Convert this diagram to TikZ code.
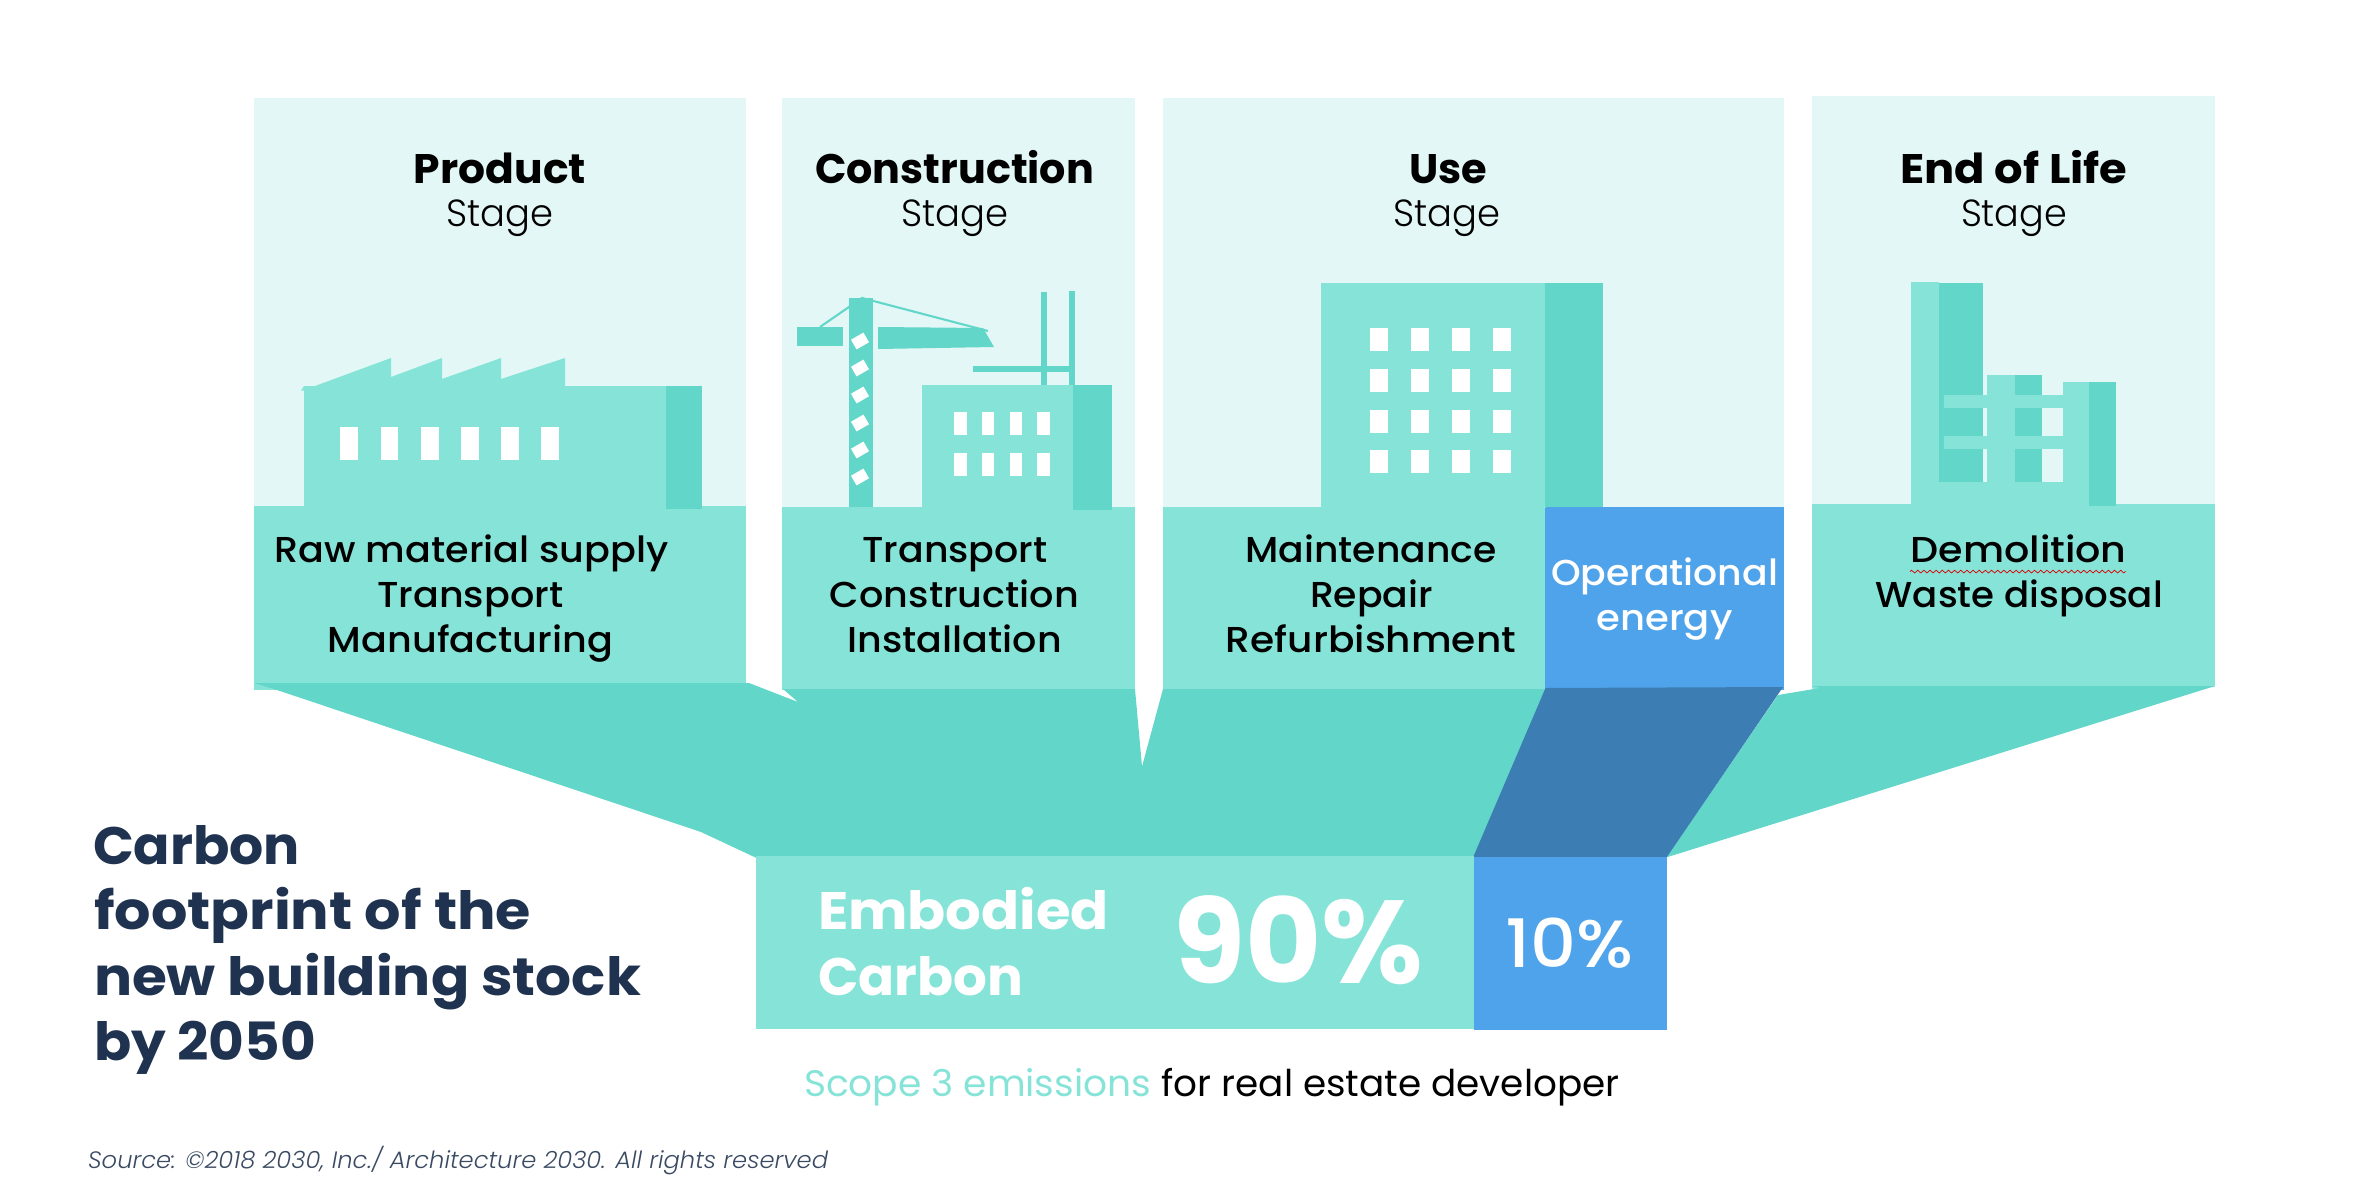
\documentclass[tikz,border=0pt]{standalone}
\usepackage{fontspec}
\usepackage{graphicx}
\usetikzlibrary{decorations.pathmorphing}
\setmainfont{Poppins}
\newfontfamily\medf{Poppins Medium}
\newfontfamily\lightf{Poppins Light}
\newfontfamily\itf{Poppins Light Italic}
\definecolor{cLight}{HTML}{E3F8F6}
\definecolor{cMid}{HTML}{86E3D8}
\definecolor{cDark}{HTML}{62D6C8}
\definecolor{cBlue}{HTML}{4FA3EA}
\definecolor{cDeep}{HTML}{3C7DB3}
\definecolor{cNavy}{HTML}{1F3350}
\definecolor{cSrc}{HTML}{3A4A63}
\newcommand\fitbox[2]{\sbox0{#2}\pgfmathsetmacro\fx{#1*1.13811/\the\wd0}\scalebox{\fx}[1]{#2}}
\tikzset{
  light/.style={fill=cLight},
  mid/.style={fill=cMid},
  dark/.style={fill=cDark},
  win/.style={fill=white},
  txt/.style={anchor=base,inner sep=0pt,outer sep=0pt},
  headtxt/.style={txt,text=black,font=\bfseries\fontsize{47}{47}\selectfont},
  stagetxt/.style={txt,text=black,font=\lightf\fontsize{43}{43}\selectfont},
  bodytxt/.style={txt,text=black,font=\medf\fontsize{41}{41}\selectfont},
  optxt/.style={txt,text=white,font=\medf\fontsize{41}{41}\selectfont},
  titletxt/.style={txt,text=cNavy,font=\bfseries\fontsize{60}{60}\selectfont},
  embtxt/.style={txt,text=white,font=\bfseries\fontsize{60}{60}\selectfont},
  scopetxt/.style={txt,font=\fontsize{42}{42}\selectfont},
  srctxt/.style={txt,text=cSrc,font=\itf\fontsize{27}{27}\selectfont},
}
\begin{document}
\begin{tikzpicture}[x=0.04cm,y=-0.04cm]
\useasboundingbox (0,0) rectangle (2360,1192);
% panels
\fill[light] (254,98) rectangle (746,506);
\fill[light] (782,98) rectangle (1135,507);
\fill[light] (1163,98) rectangle (1784,507);
\fill[light] (1812,96) rectangle (2215,504);
\fill[mid] (254,506) rectangle (746,690);
\fill[mid] (782,507) rectangle (1135,690);
\fill[mid] (1163,507) rectangle (1546,690);
\fill[cBlue] (1545,507) rectangle (1784,690);
\fill[mid] (1812,504) rectangle (2215,690);
% funnel
\fill[dark] (254,683) -- (749,683) -- (798,702) -- (783,689) -- (1135,689) -- (1142,766.5) -- (1163,689) -- (1546,689) -- (1474,857.5) -- (755.5,857.5) -- (701,832) -- (277,690) -- cycle;
\fill[white] (1790,686) -- (1784,686) -- (1784,691) -- (1778,695) -- (1815,689) -- cycle;
\fill[white] (2215,686.5) -- (2215,692) -- (2180,692) -- cycle;
\fill[dark] (1666,857.5) -- (1778,695) -- (1820,688) -- (1812,686) -- (2215,686) -- cycle;
\fill[cDeep] (1545.5,688) -- (1783,687) -- (1666.5,857.5) -- (1473,857.5) -- cycle;
% bottom boxes
\fill[mid] (755.5,856) rectangle (1474,1029);
\fill[cBlue] (1474,857) rectangle (1666.5,1030);
% factory
\fill[mid] (301,390.5) -- (304,386) -- (315,386) -- (391,358) -- (391,377) -- (442,358) -- (442,379) -- (501,358) -- (501,379) -- (565,358) -- (565,386) -- (667,386) -- (667,507) -- (304,507) -- (304,390.5) -- cycle;
\fill[dark] (666,386) rectangle (701.5,509);
\foreach \a/\b in {340/358,381/398,421/439,461/479,501/519,541/559}
  \fill[win] (\a,427) rectangle (\b,460);
% crane
\fill[dark] (849,298) rectangle (873,507);
\fill[dark] (797,327) rectangle (843,346);
\fill[dark] (878,327) -- (983,328) -- (994,347) -- (878,349) -- cycle;
\draw[cDark,line width=2.4pt] (820,327) -- (862,298) -- (988,331);
\foreach \b in {341,368,395,423,450,477}
  \fill[win,shift={(860,\b)},rotate=30] (-7.2,-5.6) rectangle (7.2,5.6);
% construction building
\fill[dark] (1041,292) rectangle (1047,388);
\fill[dark] (1069,291) rectangle (1075,386);
\fill[dark] (973,366) rectangle (1075,372);
\fill[mid] (922,385) rectangle (1074,508);
\fill[dark] (1073,385) rectangle (1112,510);
\foreach \a/\b in {954/967,982/994,1010/1022,1037/1050}
  \foreach \c/\d in {412/435,453/476}
    \fill[win] (\a,\c) rectangle (\b,\d);
% use building
\fill[mid] (1321,283) rectangle (1546,508);
\fill[dark] (1545,283) rectangle (1603,507);
\foreach \a/\b in {1370/1388,1411/1429,1452/1470,1493/1511}
  \foreach \c/\d in {328/351,369/392,409.5/432.5,450/473}
    \fill[win] (\a,\c) rectangle (\b,\d);
% demolished building
\fill[mid] (1911,282) rectangle (1939,505);
\fill[dark] (1939,283) rectangle (1983,482);
\fill[mid] (1911,482) rectangle (2089,505);
\fill[mid] (1987,375) rectangle (2015,482);
\fill[dark] (2015,375) rectangle (2042,482);
\fill[mid] (2063,382) rectangle (2089,505);
\fill[dark] (2089,382) rectangle (2116,506);
\fill[mid] (1944,395) rectangle (2063,408);
\fill[mid] (1944,436) rectangle (2063,449);
% headings
\node[headtxt] (h1) at (500,183) {\fitbox{172}{Product}};
\node[stagetxt] (s1) at (500,226) {\fitbox{107}{Stage}};
\node[headtxt] (h2) at (954.6,183) {\fitbox{279}{Construction}};
\node[stagetxt] (s2) at (955,226) {\fitbox{107}{Stage}};
\node[headtxt] (h3) at (1448,183) {\fitbox{78}{Use}};
\node[stagetxt] (s3) at (1447,226) {\fitbox{107}{Stage}};
\node[headtxt] (h4) at (2014,183) {\fitbox{227}{End of Life}};
\node[stagetxt] (s4) at (2014,226) {\fitbox{106}{Stage}};
% body
\node[bodytxt] (b11) at (471.6,562.5) {\fitbox{394}{Raw material supply}};
\node[bodytxt] (b12) at (470.3,607) {\fitbox{186}{Transport}};
\node[bodytxt] (b13) at (470.5,652.7) {\fitbox{285}{Manufacturing}};
\node[bodytxt] (b21) at (955,562.5) {\fitbox{185}{Transport}};
\node[bodytxt] (b22) at (954.5,607) {\fitbox{249}{Construction}};
\node[bodytxt] (b23) at (954.7,652.7) {\fitbox{214}{Installation}};
\node[bodytxt] (b31) at (1371,562.5) {\fitbox{251}{Maintenance}};
\node[bodytxt] (b32) at (1371.5,607) {\fitbox{123}{Repair}};
\node[bodytxt] (b33) at (1371,652.7) {\fitbox{290}{Refurbishment}};
\node[optxt] (op1) at (1664.5,585) {\fitbox{227}{Operational}};
\node[optxt] (op2) at (1664.5,630) {\fitbox{136}{energy}};
\node[bodytxt] (b41) at (2018.6,562.5) {\fitbox{216}{Demolition}};
\coordinate (sqA) at (1910,571.6);
\coordinate (sqB) at (2126,571.6);
\draw[red!85!black,line width=0.8pt,decorate,decoration={zigzag,segment length=7pt,amplitude=1.6pt}] (sqA) -- (sqB);
\node[bodytxt] (b42) at (2019.3,607) {\fitbox{287}{Waste disposal}};
% title
\node[titletxt,anchor=base west] (t1) at (93,864) {\fitbox{207}{Carbon}};
\node[titletxt,anchor=base west] (t2) at (94,929) {\fitbox{437}{footprint of the}};
\node[titletxt,anchor=base west] (t3) at (94,995) {\fitbox{547}{new building stock}};
\node[titletxt,anchor=base west] (t4) at (94,1060.6) {\fitbox{222}{by 2050}};
% box texts
\node[embtxt,anchor=base west] (e1) at (818,929.5) {\fitbox{291}{Embodied}};
\node[embtxt,anchor=base west] (e2) at (818,995) {\fitbox{205}{Carbon}};
\node[txt,text=white,font=\bfseries\fontsize{134}{134}\selectfont] (p90) at (1298.5,983) {\fitbox{250}{90\%}};
\node[txt,text=white,font=\medf\fontsize{76}{76}\selectfont] (p10) at (1569.5,967.7) {\fitbox{128}{10\%}};
% caption
\node[scopetxt,text=cMid,anchor=base west] (c1) at (804,1096) {\fitbox{347}{Scope 3 emissions}};
\node[scopetxt,anchor=base west] (c2) at (1161.5,1096) {\fitbox{458}{for real estate developer}};
\node[srctxt,anchor=base west] (src) at (88,1168) {\fitbox{740}{Source: ©2018 2030, Inc./ Architecture 2030. All rights reserved}};
\end{tikzpicture}
\end{document}
